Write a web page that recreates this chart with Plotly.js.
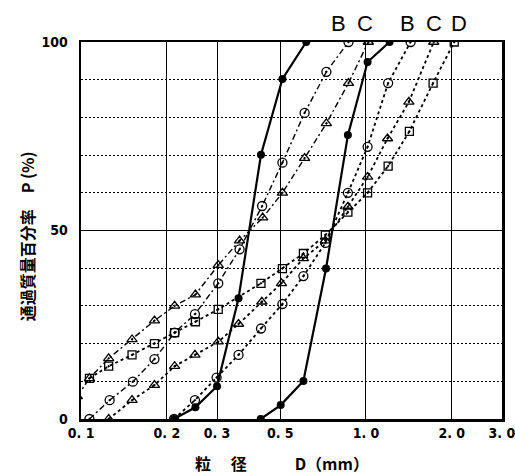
<!DOCTYPE html>
<html>
<head>
<meta charset="utf-8">
<script src="https://cdn.plot.ly/plotly-3.0.1.min.js"></script>
<style>html,body{margin:0;padding:0;background:#fff;}#chart{width:515px;height:476px;}</style>
</head>
<body>
<div id="chart"></div>
<script>
// ---- data (grain size D in mm, passing percentage P in %) ----
const leftA_x = [0.212, 0.252, 0.300, 0.357, 0.428, 0.509, 0.617];
const leftA_y = [0, 3.1, 8.7, 32.0, 70.1, 90.2, 100];

const rightA_x = [0.427, 0.502, 0.603, 0.724, 0.864, 1.013, 1.21];
const rightA_y = [0, 3.7, 10.1, 39.9, 75.3, 94.7, 100];

const leftB_x = [0.107, 0.126, 0.152, 0.181, 0.213, 0.251, 0.303, 0.360, 0.432, 0.509, 0.609, 0.726, 0.868];
const leftB_y = [0, 5.0, 9.9, 15.9, 22.9, 27.8, 36.0, 45.0, 56.5, 68.0, 81.2, 92.1, 100];

const leftC_x = [0.097, 0.107, 0.125, 0.151, 0.181, 0.213, 0.252, 0.303, 0.360, 0.434, 0.509, 0.609, 0.726, 0.868, 1.019];
const leftC_y = [6.0, 10.8, 16.1, 21.1, 26.1, 30.0, 33.0, 40.8, 47.3, 53.4, 60.0, 69.2, 78.4, 89.1, 100];

const rightB_x = [0.212, 0.251, 0.299, 0.357, 0.428, 0.509, 0.603, 0.720, 0.864, 1.013, 1.196, 1.434];
const rightB_y = [0, 5.0, 11.0, 17.0, 24.0, 30.5, 37.9, 46.7, 60.0, 72.2, 89.1, 100];

const rightC_x = [0.125, 0.151, 0.181, 0.213, 0.251, 0.303, 0.357, 0.431, 0.505, 0.603, 0.720, 0.864, 1.013, 1.19, 1.414, 1.729];
const rightC_y = [0, 5.0, 9.0, 14.0, 17.0, 20.5, 25.2, 31.1, 36.0, 42.6, 47.3, 56.3, 64.2, 74.4, 84.1, 100];

const rightD_x = [0.107, 0.125, 0.151, 0.181, 0.213, 0.252, 0.303, 0.428, 0.509, 0.603, 0.720, 0.864, 1.013, 1.196, 1.42, 1.72, 2.04];
const rightD_y = [10.8, 14.0, 17.0, 20.0, 22.9, 25.8, 29.1, 36.0, 39.9, 43.9, 48.8, 54.9, 60.0, 67.1, 76.3, 89.1, 100];

const xTickVals = [0.1, 0.2, 0.3, 0.5, 1, 2, 3];
const xTickText = ["0. 1", "0. 2", "0. 3", "0. 5", "1. 0", "2. 0", "3. 0"];
const xMinorVals = [0.4, 0.6, 0.7, 0.8, 0.9];
const yTickVals = [0, 50, 100];
const yMinorVals = [10, 20, 30, 40, 60, 70, 80, 90];
const curveLabels = ["B", "C", "B", "C", "D"];

const xTitle = "粒　 径　　　D（mm）";
const yTitle = "通過質量百分率　P (%)";

// ---- traces ----
function tr(x, y, sym, dash, w, size, fill) {
  return {
    x: x, y: y, type: "scatter", mode: "lines+markers", showlegend: false,
    line: {color: "#000", width: w, dash: dash},
    marker: fill ? {symbol: sym, size: size, color: "#000"}
                 : {symbol: sym, size: size, color: "#000", line: {color: "#000", width: 1.3}}
  };
}
const dashDot = "6px,3px,2px,3px";
const dotted = "3px,3px";
const data = [
  tr(leftB_x, leftB_y, "circle-open-dot", dashDot, 1.4, 9, false),
  tr(leftC_x, leftC_y, "triangle-up-open-dot", dashDot, 1.4, 9, false),
  tr(rightB_x, rightB_y, "circle-open-dot", dotted, 1.8, 9, false),
  tr(rightC_x, rightC_y, "triangle-up-open-dot", dotted, 1.8, 9, false),
  tr(rightD_x, rightD_y, "square-open-dot", dotted, 1.8, 8, false),
  tr(leftA_x, leftA_y, "circle", "solid", 2.2, 8, true),
  tr(rightA_x, rightA_y, "circle", "solid", 2.2, 8, true)
];

const tickFont = {family: "DejaVu Sans Condensed, DejaVu Sans, sans-serif", size: 14, color: "#000", weight: "bold"};
const labelPos = [0.611, 0.674, 0.776, 0.839, 0.899];
const annotations = curveLabels.map((t, i) => ({
  text: t, xref: "paper", yref: "paper", x: labelPos[i], y: 1.048,
  xanchor: "center", yanchor: "middle", showarrow: false,
  font: {family: "Liberation Sans, Arial, sans-serif", size: 22, color: "#000"}
}));
annotations.push({
  text: xTitle, xref: "paper", yref: "paper", x: 0.478, y: -0.118,
  xanchor: "center", yanchor: "middle", showarrow: false,
  font: {family: "Noto Sans CJK JP, sans-serif", size: 16, color: "#000", weight: "bold"}
});
annotations.push({
  text: yTitle, xref: "paper", yref: "paper", x: -0.128, y: 0.485,
  xanchor: "center", yanchor: "middle", showarrow: false, textangle: -90,
  font: {family: "Noto Sans CJK JP, sans-serif", size: 16, color: "#000", weight: "bold"}
});

const xr = [-1.0002, Math.log10(3) + 0.0002];
const layout = {
  width: 515, height: 476,
  margin: {l: 81, r: 13, t: 42, b: 57, pad: 0},
  paper_bgcolor: "#fff", plot_bgcolor: "#fff",
  xaxis: {
    type: "log", range: xr, tickmode: "array",
    tickvals: xTickVals, ticktext: xTickText, tickfont: tickFont, ticks: "",
    ticklabeloverflow: "allow",
    showgrid: true, gridcolor: "#000", gridwidth: 1,
    showline: true, mirror: true, linecolor: "#000", linewidth: 2.5, zeroline: false
  },
  xaxis2: {
    type: "log", range: xr, overlaying: "x", anchor: "y", side: "bottom",
    tickmode: "array", tickvals: xMinorVals, showticklabels: false, ticks: "",
    showgrid: true, gridcolor: "#000", gridwidth: 1.2, griddash: "2px,2px",
    showline: false, zeroline: false
  },
  yaxis: {
    range: [0, 100], tickmode: "array", tickvals: yTickVals, tickfont: tickFont, ticks: "",
    ticklabelstandoff: 8,
    showgrid: true, gridcolor: "#000", gridwidth: 1,
    minor: {tickmode: "array", tickvals: yMinorVals, showgrid: true, gridcolor: "#000", gridwidth: 1.2, griddash: "2px,2px", ticks: ""},
    showline: true, mirror: true, linecolor: "#000", linewidth: 2.5, zeroline: false
  },
  annotations: annotations
};

Plotly.newPlot("chart", data, layout, {staticPlot: true, displayModeBar: false});
</script>
</body>
</html>
